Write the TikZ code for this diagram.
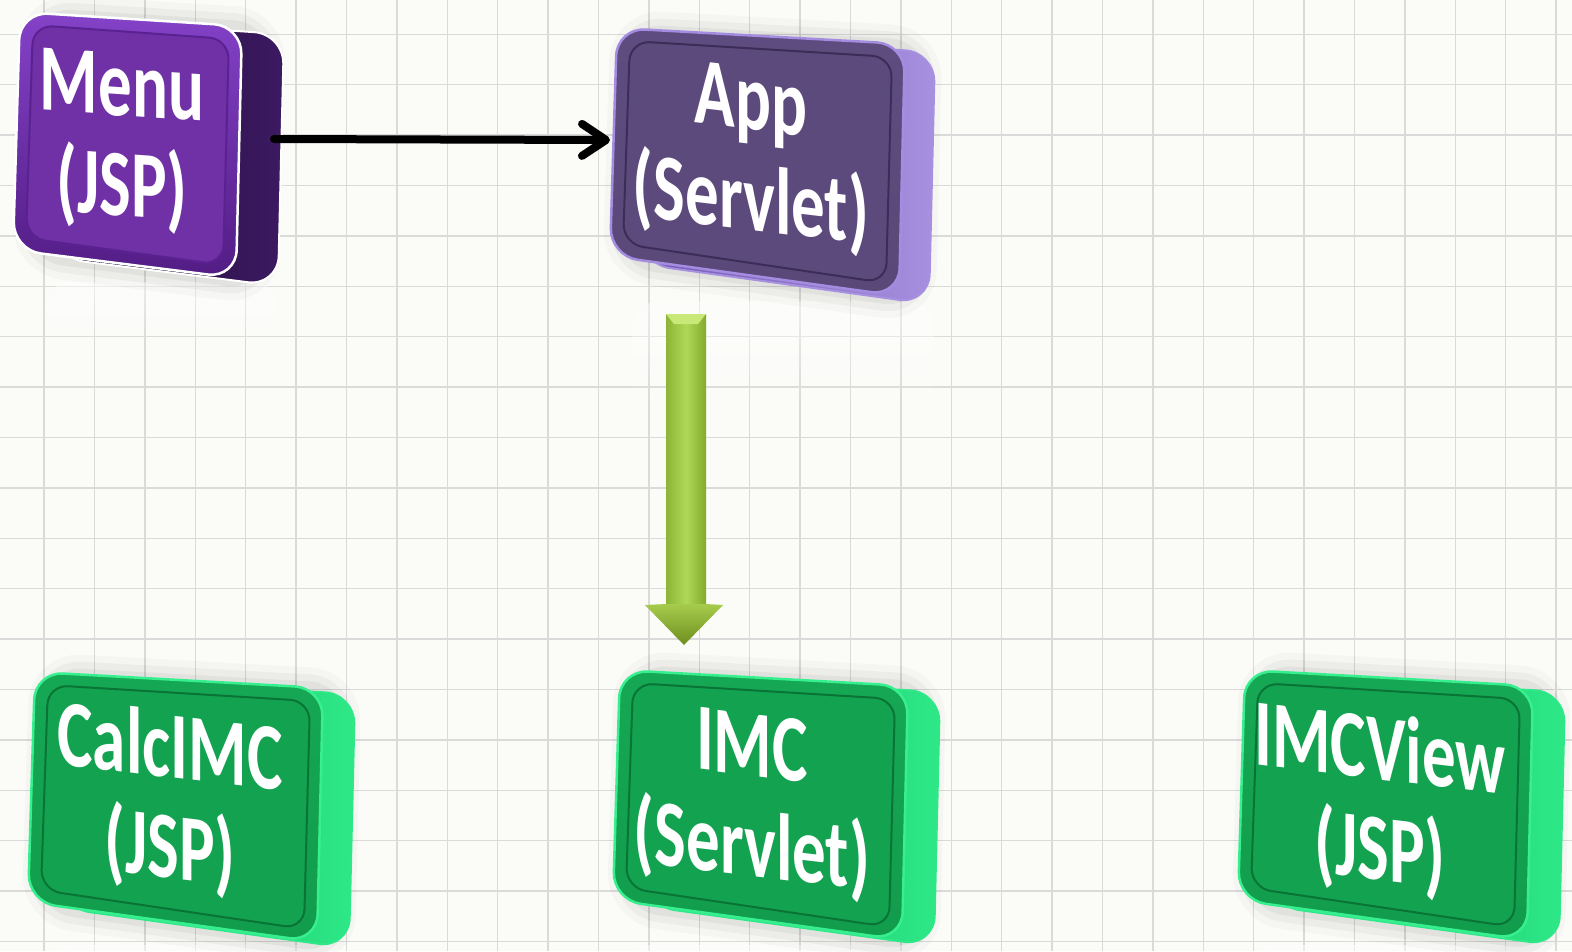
\documentclass[tikz,border=0pt]{standalone}
\usepackage{fontspec}
\usepackage{graphicx}
\newfontfamily\lblfont{Carlito}
\usetikzlibrary{arrows.meta,fadings,calc}
\definecolor{bgc}{HTML}{FBFCF8}
\definecolor{gridc}{HTML}{DADADA}
\definecolor{arrL}{HTML}{8CB436}
\definecolor{arrR}{HTML}{84AA2C}
\definecolor{arrM}{HTML}{B0D858}
\definecolor{headT}{HTML}{A6CC4C}
\definecolor{headB}{HTML}{6E8E1E}
\definecolor{arrTop}{HTML}{C8E878}
\tikzset{
  lbl/.style={text=white, font=\lblfont\bfseries\fontsize{67}{70}\selectfont, inner sep=0pt, yslant=-0.12},
  gridline/.style={draw=gridc, line width=1.4pt},
  flow/.style={line width=8pt, line cap=round, -{Straight Barb[length=24pt,width=32pt,round]}},
  refl/.style={fill=white, opacity=.5, path fading=south, rounded corners=25pt},
}
\newcommand\twolines[2]{\scalebox{1}[1.42]{\begin{tabular}{@{}c@{}}#1\\#2\end{tabular}}}
% ox oy w s h bl dx dy
\newcommand\slab[8]{%
  \def\facepath{(#1,#2) -- (#1+#3,#2+#4) -- (#1+#3-6,#2+#5) -- (#1-7,#2+#5-#6) -- cycle}%
  \def\innerpath{(#1+13,#2+13) -- (#1+#3-13,#2+#4+13) -- (#1+#3-19,#2+#5-13) -- (#1+6,#2+#5-#6-12) -- cycle}%
  \foreach \lw/\op in {44/0.025,30/0.035,16/0.045}{%
    \draw[black, opacity=\op, line width=\lw pt, rounded corners=30pt, line join=round, shift={(#7/2,#8/2)}] \facepath;}
  \shade[left color=sideA, right color=sideB, rounded corners=30pt, shift={(#7,#8)}] \facepath;
  \draw[sideE, line width=2pt, rounded corners=30pt, shift={(#7,#8)}] \facepath;
  \shade[top color=faceHi, bottom color=faceOut, rounded corners=28pt] \facepath;
  \draw[edgeC, line width=2.5pt, rounded corners=28pt] \facepath;
  \fill[faceIn, rounded corners=20pt] \innerpath;
  \draw[bevC, line width=2pt, rounded corners=20pt] \innerpath;
}
\begin{document}
\begin{tikzpicture}[x=1pt,y=-1pt]
\useasboundingbox (0,0) rectangle (1572,951);
\fill[bgc] (0,0) rectangle (1572,951);
\foreach \k in {0,...,30} \draw[gridline] (44+50.4*\k,0) -- (44+50.4*\k,951);
\foreach \k in {0,...,18} \draw[gridline] (0,34.3+50.4*\k) -- (1572,34.3+50.4*\k);

% reflections
\fill[refl] (45,282) rectangle (278,345);
\fill[refl] (632,302) rectangle (934,405);
\fill[refl] (45,945) rectangle (352,1000);
\fill[refl] (628,945) rectangle (938,1000);
\fill[refl] (1252,945) rectangle (1562,1000);

% Menu
\definecolor{sideA}{HTML}{1C0A2E}
\definecolor{sideB}{HTML}{3C1A62}
\colorlet{sideE}{white}
\definecolor{faceHi}{HTML}{8442C8}
\definecolor{faceOut}{HTML}{521C84}
\definecolor{faceIn}{HTML}{7030A6}
\colorlet{edgeC}{white}
\definecolor{bevC}{HTML}{5A2290}
\slab{20}{12}{222}{14}{266}{28}{42}{8}

% App
\definecolor{sideA}{HTML}{7358B0}
\definecolor{sideB}{HTML}{A890E0}
\colorlet{sideE}{sideB}
\definecolor{faceHi}{HTML}{5E4C80}
\definecolor{faceOut}{HTML}{5A4878}
\definecolor{faceIn}{HTML}{5C4A7C}
\definecolor{edgeC}{HTML}{A48CE0}
\definecolor{bevC}{HTML}{3C2D58}
\slab{617}{28}{288}{16}{268}{40}{30}{8}

% green boxes
\definecolor{sideA}{HTML}{10B85C}
\definecolor{sideB}{HTML}{2EE888}
\colorlet{sideE}{sideB}
\definecolor{faceHi}{HTML}{15A854}
\definecolor{faceOut}{HTML}{119C4C}
\definecolor{faceIn}{HTML}{12A250}
\definecolor{edgeC}{HTML}{38EF90}
\definecolor{bevC}{HTML}{0A7436}
\slab{35}{672}{288}{16}{270}{40}{32}{6}
\slab{620}{670}{288}{16}{270}{40}{32}{6}
\slab{1245}{670}{288}{16}{270}{40}{32}{6}

% labels
\node[lbl, yslant=0.05] (menu) at (122,146) {\twolines{Menu}{(JSP)}};
\node[lbl] (app) at (751,160) {\twolines{App}{(Servlet)}};
\node[lbl] (calc) at (170,808) {\twolines{CalcIMC}{(JSP)}};
\node[lbl] (imc) at (752,806) {\twolines{IMC}{(Servlet)}};
\node[lbl] (view) at (1380,810) {\twolines{IMCView}{(JSP)}};

% connectors
\coordinate (menuE) at (274,139);
\coordinate (appW) at (610,140);
\draw[flow] (menuE) -- (appW);

\coordinate (gs) at (686,314);
\coordinate (gt) at (684,645);
\shade[left color=arrL, right color=arrR, middle color=arrM]
  ($(gs)+(-20,0)$) -- ($(gs)+(20,0)$) -- ($(gt)+(22,-40)$) -- ($(gt)+(-18,-40)$) -- cycle;
\shade[top color=headT, bottom color=headB]
  ($(gt)+(22,-41)$) -- ($(gt)+(39,-40)$) -- (gt) -- ($(gt)+(-39,-40)$) -- ($(gt)+(-18,-41)$) -- cycle;
\fill[arrTop] ($(gs)+(-20,0)$) -- ($(gs)+(20,0)$) -- ($(gs)+(12,10)$) -- ($(gs)+(-12,10)$) -- cycle;
\end{tikzpicture}
\end{document}
